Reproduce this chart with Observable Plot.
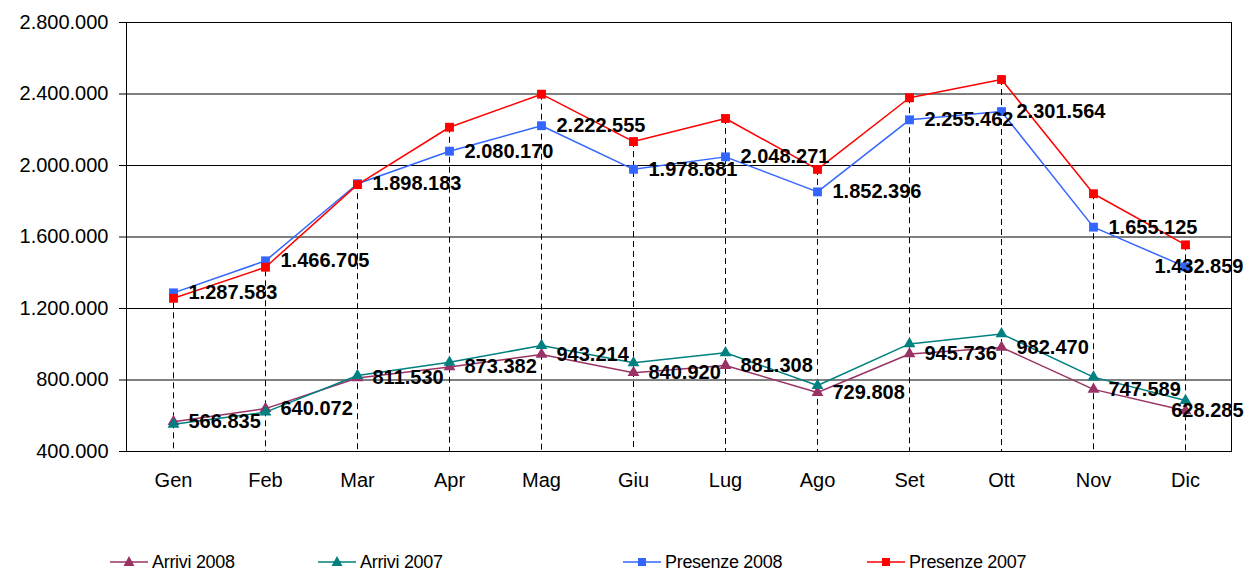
<!DOCTYPE html>
<html><head><meta charset="utf-8">
<script src="https://cdn.jsdelivr.net/npm/d3@7"></script>
<script src="https://cdn.jsdelivr.net/npm/@observablehq/plot@0.6"></script>
<style>
body{margin:0;background:#fff;font-family:"Liberation Sans",Arial,sans-serif;}
#chart{width:1245px;}
#legend{position:relative;width:1245px;height:60px;}
.item{position:absolute;top:40px;height:24px;display:flex;align-items:center;font-size:18px;letter-spacing:-0.3px;color:#000;white-space:nowrap;}
.item svg{margin-right:4px;}
</style></head><body>
<div id="chart"></div>
<div id="legend"></div>
<script>
const months = ["Gen","Feb","Mar","Apr","Mag","Giu","Lug","Ago","Set","Ott","Nov","Dic"];
const arrivi2008 = [566835, 640072, 811530, 873382, 943214, 840920, 881308, 729808, 945736, 982470, 747589, 628285];
const arrivi2007 = [552000, 620000, 825000, 899000, 993000, 896000, 952000, 769000, 1002000, 1058000, 816000, 685000];
const presenze2008 = [1287583, 1466705, 1898183, 2080170, 2222555, 1978681, 2048271, 1852396, 2255462, 2301564, 1655125, 1432859];
const presenze2007 = [1257000, 1431000, 1893000, 2214000, 2399000, 2134000, 2263000, 1978000, 2379000, 2481000, 1842000, 1556000];
const seriesNames = ["Arrivi 2008", "Arrivi 2007", "Presenze 2008", "Presenze 2007"];
const yTicks = [400000, 800000, 1200000, 1600000, 2000000, 2400000, 2800000];

const seriesValues = [arrivi2008, arrivi2007, presenze2008, presenze2007];
const colors = ["#993366", "#008080", "#3366FF", "#FF0000"];
const symbols = ["triangle", "triangle", "square", "square"];
const radii = [4.4, 4.4, 5, 5];
const labelled = [true, false, true, false];

const locale = d3.formatLocale({decimal: ",", thousands: ".", grouping: [3], currency: ["", "€"]});
const fmt = locale.format(",d");

const series = seriesNames.map((name, i) => ({
  name, color: colors[i], symbol: symbols[i], r: radii[i], labelled: labelled[i],
  rows: months.map((m, j) => ({month: m, value: seriesValues[i][j], series: name}))
}));
// drop lines: from the highest point of each month down to the axis
const dropRows = months.map((m, j) => ({month: m, value: d3.max(seriesValues, v => v[j])}));

const marks = [
  Plot.ruleY(yTicks, {stroke: "#000", strokeWidth: 1}),
  Plot.ruleX(dropRows, {x: "month", y1: "value", y2: 400000, stroke: "#000", strokeWidth: 1, strokeDasharray: "6,4"}),
  Plot.axisY({ticks: yTicks, tickFormat: fmt, tickSize: 7, tickPadding: 11, label: null, fontSize: 20}),
  Plot.axisX({tickSize: 0, tickPadding: 21, label: null, fontSize: 20}),
  Plot.frame({stroke: "#000", strokeWidth: 1})
];
for (const s of series) {
  marks.push(Plot.line(s.rows, {x: "month", y: "value", stroke: s.color, strokeWidth: 1.5}));
  marks.push(Plot.dot(s.rows, {x: "month", y: "value", symbol: s.symbol, r: s.r, fill: s.color, stroke: "none"}));
}
for (const s of series.filter(s => s.labelled)) {
  const last = s.rows.length - 1;
  marks.push(Plot.text(s.rows.filter((d, j) => j < last), {x: "month", y: "value", text: d => fmt(d.value), dx: 15, textAnchor: "start", fontWeight: "bold", fontSize: 20, fill: "#000"}));
  marks.push(Plot.text(s.rows.filter((d, j) => j === last), {x: "month", y: "value", text: d => fmt(d.value), dx: 58, textAnchor: "end", fontWeight: "bold", fontSize: 20, fill: "#000"}));
}

const chart = Plot.plot({
  width: 1245, height: 510,
  marginTop: 22, marginBottom: 59, marginLeft: 126, marginRight: 14,
  style: {fontFamily: "'Liberation Sans', Arial, sans-serif", fontSize: "20px", color: "#000", background: "#fff", overflow: "visible"},
  x: {type: "point", domain: months, padding: 0.5, label: null},
  y: {domain: [400000, 2800000], label: null},
  marks
});
document.getElementById("chart").appendChild(chart);

const legendLefts = [110, 318, 623, 867];
const legend = document.getElementById("legend");
series.forEach((s, i) => {
  const item = document.createElement("div");
  item.className = "item";
  item.style.left = legendLefts[i] + "px";
  const sym = s.symbol === "square"
    ? `<rect x="15" y="8" width="8" height="8" fill="${s.color}"/>`
    : `<path d="M19,6 L24.5,16 L13.5,16 Z" fill="${s.color}"/>`;
  item.innerHTML = `<svg width="38" height="24" viewBox="0 0 38 24"><line x1="0" x2="38" y1="12" y2="12" stroke="${s.color}" stroke-width="1.5"/>${sym}</svg><span>${s.name}</span>`;
  legend.appendChild(item);
});
</script>
</body></html>
